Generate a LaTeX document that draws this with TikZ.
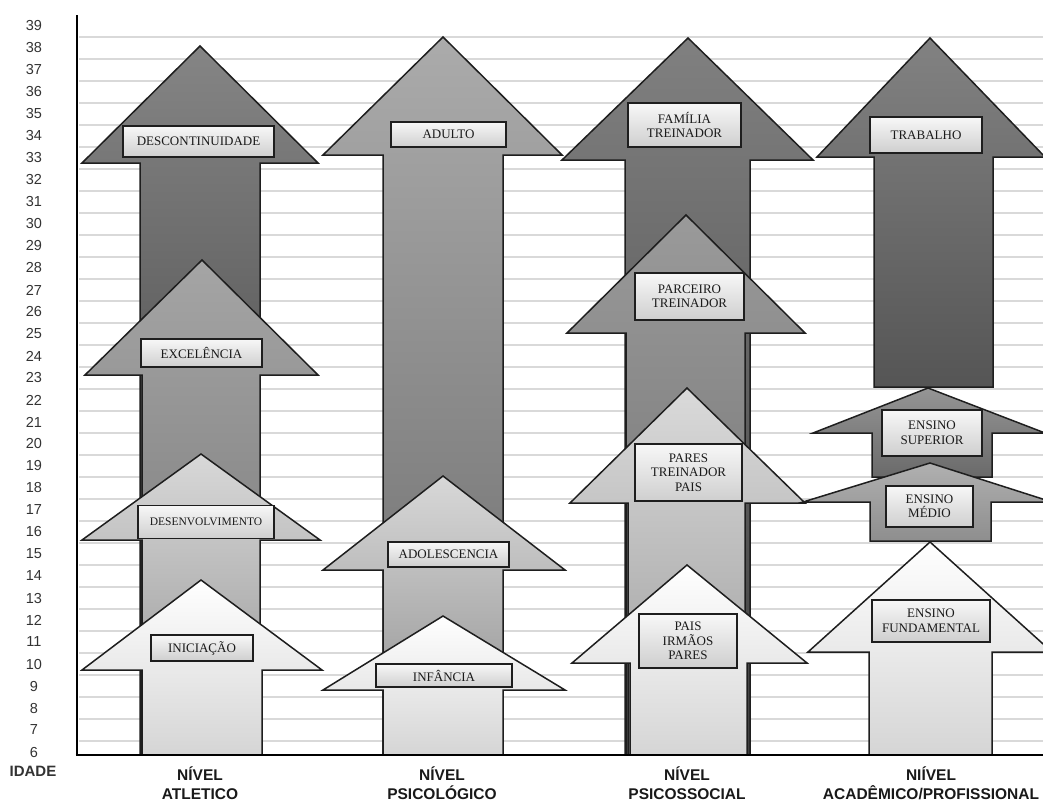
\documentclass[tikz,border=0pt]{standalone}
\usepackage{fontspec}
\setmainfont{Liberation Serif}
\newfontfamily\axisfont{Liberation Sans}
\definecolor{gridc}{HTML}{D9D9D9}
\definecolor{edge}{HTML}{1E1E1E}
\definecolor{txt}{HTML}{1A1A1A}
\definecolor{dAt}{HTML}{858585}\definecolor{dAb}{HTML}{303030}
\definecolor{cAt}{HTML}{A5A5A5}\definecolor{cAb}{HTML}{707070}
\definecolor{bAt}{HTML}{D8D8D8}\definecolor{bAb}{HTML}{909090}
\definecolor{wt}{HTML}{FFFFFF}\definecolor{wb}{HTML}{D5D5D5}
\definecolor{dBt}{HTML}{ABABAB}\definecolor{dBb}{HTML}{6A6A6A}
\definecolor{cBt}{HTML}{D8D8D8}\definecolor{cBb}{HTML}{8A8A8A}
\definecolor{dCt}{HTML}{808080}\definecolor{dCb}{HTML}{404040}
\definecolor{cCt}{HTML}{9A9A9A}\definecolor{cCb}{HTML}{6A6A6A}
\definecolor{bCt}{HTML}{DADADA}\definecolor{bCb}{HTML}{999999}
\definecolor{dDt}{HTML}{828282}\definecolor{dDb}{HTML}{555555}
\definecolor{sDt}{HTML}{959595}\definecolor{sDb}{HTML}{6A6A6A}
\definecolor{mDt}{HTML}{B0B0B0}\definecolor{mDb}{HTML}{8E8E8E}
\tikzset{
  arrowline/.style={draw=edge, line width=1.5pt, line join=miter},
  lblbox/.style={draw=edge, line width=1.2pt, top color=gray!6, bottom color=gray!38,
    font=\fontsize{13}{14.5}\selectfont, align=center, inner sep=0pt, text=txt},
  ylab/.style={font=\axisfont\fontsize{14.5}{15}\selectfont, text=black!80, inner sep=0pt},
  xlab/.style={font=\axisfont\bfseries\fontsize{15.5}{19}\selectfont, align=center, inner sep=0pt, text=black!90},
  gridline/.style={draw=gridc, line width=1.3pt},
  axisline/.style={draw=black, line width=2.8pt}
}
% #1 sL #2 sR #3 hL #4 hR #5 head base #6 tip x #7 tip y #8 bottom #9 shading colours
\newcommand{\blockarrow}[9]{\draw[arrowline, #9] (#1,#8) -- (#1,#5) -- (#3,#5) -- (#6,#7) -- (#4,#5) -- (#2,#5) -- (#2,#8) -- cycle;}
\newcommand{\boxlabel}[6]{\node[lblbox, minimum width=#4, minimum height=#5] (#1) at (#2,#3) {#6};}
\begin{document}
\begin{tikzpicture}[x=1pt, y=-1pt]
\useasboundingbox (0,0) rectangle (1043,803);
\fill[white] (0,0) rectangle (1043,803);
% grid
\foreach \k in {0,...,32} \draw[gridline] (79,{37+22*\k}) -- (1043,{37+22*\k});
% y labels
\foreach \a in {6,...,39} \node[ylab] (y\a) at (34,{752-22*(\a-6)}) {\a};
\node[ylab, font=\axisfont\bfseries\fontsize{15}{16}\selectfont] (idade) at (33,771) {IDADE};

% column 1
\blockarrow{140}{260}{82}{318}{163}{200}{46}{755}{top color=dAt, bottom color=dAb}
\boxlabel{descont}{198.5}{141.5}{151}{31}{DESCONTINUIDADE}
\blockarrow{142}{260}{85}{318}{375}{202}{260}{755}{top color=cAt, bottom color=cAb}
\boxlabel{excel}{201.5}{353}{121}{28}{EXCELÊNCIA}
\blockarrow{142}{260}{82}{320}{540}{201}{454}{755}{top color=bAt, bottom color=bAb}
\boxlabel{desenv}{206}{522}{136}{33}{\fontsize{11.5}{13}\selectfont DESENVOLVIMENTO}
\blockarrow{142}{262}{82}{322}{670}{201}{580}{755}{top color=wt, bottom color=wb}
\boxlabel{inic}{202}{648}{102}{26}{INICIAÇÃO}

% column 2
\blockarrow{383}{503}{323}{562}{155}{443}{37}{755}{top color=dBt, bottom color=dBb}
\boxlabel{adulto}{448.5}{134.5}{115}{25}{ADULTO}
\blockarrow{383}{503}{323}{565}{570}{443}{476}{755}{top color=cBt, bottom color=cBb}
\boxlabel{adol}{448.5}{554.5}{121}{25}{ADOLESCENCIA}
\blockarrow{383}{503}{323}{565}{690}{443}{616}{755}{top color=wt, bottom color=wb}
\boxlabel{inf}{444}{675.5}{136}{23}{INFÂNCIA}

% column 3
\blockarrow{625}{750}{562}{813}{160}{688}{38}{755}{top color=dCt, bottom color=dCb}
\boxlabel{familia}{684.5}{125}{113}{44}{FAMÍLIA\\TREINADOR}
\blockarrow{626}{745}{567}{805}{333}{686}{215}{755}{top color=cCt, bottom color=cCb}
\boxlabel{parceiro}{689.5}{296.5}{109}{47}{PARCEIRO\\TREINADOR}
\blockarrow{628}{745}{570}{805}{503}{687}{388}{755}{top color=bCt, bottom color=bCb}
\boxlabel{pares}{688.5}{472.5}{107}{57}{PARES\\TREINADOR\\PAIS}
\blockarrow{630}{747}{572}{807}{663}{687}{565}{755}{top color=wt, bottom color=wb}
\boxlabel{pais}{688}{641}{98}{54}{PAIS\\IRMÃOS\\PARES}

% column 4
\blockarrow{874}{993}{817}{1045}{157}{930}{38}{387}{top color=dDt, bottom color=dDb}
\boxlabel{trab}{926}{135}{112}{36}{TRABALHO}
\blockarrow{872}{992}{813}{1045}{433}{928}{388}{477}{top color=sDt, bottom color=sDb}
\boxlabel{sup}{932}{433}{100}{46}{ENSINO\\SUPERIOR}
\blockarrow{870}{991}{803}{1052}{502}{930}{463}{541}{top color=mDt, bottom color=mDb}
\boxlabel{medio}{929.5}{506.5}{87}{41}{ENSINO\\MÉDIO}
\blockarrow{869}{992}{808}{1052}{652}{930}{542}{755}{top color=wt, bottom color=wb}
\boxlabel{fund}{931}{621}{118}{42}{ENSINO\\FUNDAMENTAL}

% axes
\draw[axisline] (77,15) -- (77,756.4);
\draw[axisline, line width=2.5pt] (75.6,755) -- (1043,755);

% column labels
\node[xlab] (c1) at (200,783.5) {NÍVEL\\ATLETICO};
\node[xlab] (c2) at (442,783.5) {NÍVEL\\PSICOLÓGICO};
\node[xlab] (c3) at (687,783.5) {NÍVEL\\PSICOSSOCIAL};
\node[xlab] (c4) at (931,783.5) {NIÍVEL\\ACADÊMICO/PROFISSIONAL};
\end{tikzpicture}
\end{document}
